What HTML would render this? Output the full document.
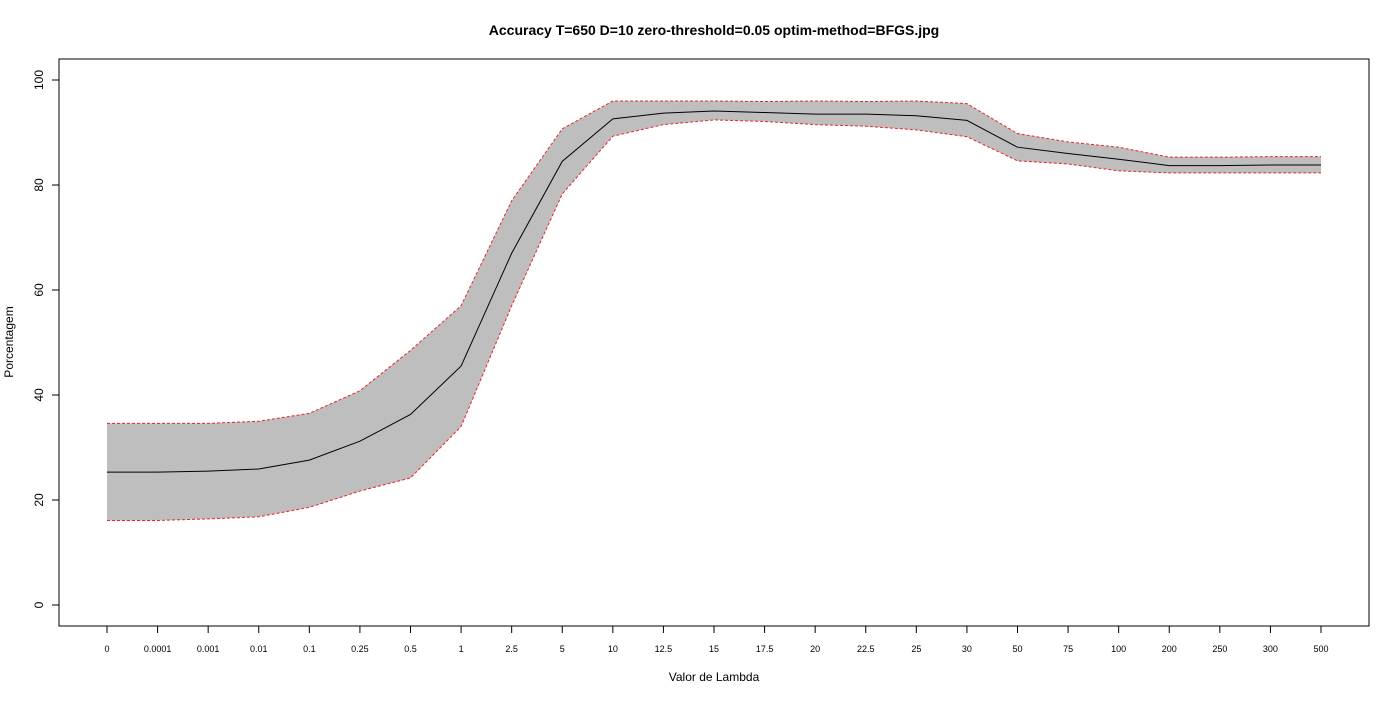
<!DOCTYPE html>
<html><head><meta charset="utf-8"><style>
body{margin:0;background:#fff;}
svg text{font-family:"Liberation Sans",Arial,sans-serif;fill:#000;}
</style></head><body>
<svg id="chart" width="1400" height="700" xmlns="http://www.w3.org/2000/svg">
<text x="714" y="35" text-anchor="middle" font-size="14" font-weight="bold">Accuracy T=650 D=10 zero-threshold=0.05 optim-method=BFGS.jpg</text>
<rect x="59" y="59" width="1310" height="567" fill="none" stroke="#000" stroke-width="1"/>
<g id="marks"></g>
<g id="axes"></g>
<text x="714" y="681" text-anchor="middle" font-size="12">Valor de Lambda</text>
<text transform="translate(13,342) rotate(-90)" text-anchor="middle" font-size="12">Porcentagem</text>
</svg>
<script>
const categories=["0","0.0001","0.001","0.01","0.1","0.25","0.5","1","2.5","5","10","12.5","15","17.5","20","22.5","25","30","50","75","100","200","250","300","500"];
const meanValues=[25.3,25.3,25.5,25.9,27.6,31.2,36.3,45.5,67,84.5,92.6,93.7,94.1,93.8,93.5,93.5,93.2,92.3,87.2,86,84.9,83.7,83.7,83.8,83.8];
const upperValues=[34.6,34.6,34.6,35,36.5,40.8,48.5,57,77,90.7,96,96,96,95.9,96,95.9,96,95.5,89.8,88.2,87.2,85.3,85.3,85.4,85.4];
const lowerValues=[16.1,16.1,16.4,16.8,18.6,21.7,24.2,34,57,78.3,89.3,91.5,92.4,92.1,91.5,91.2,90.5,89.2,84.6,84.0,82.7,82.3,82.3,82.3,82.3];
const yTicks=[0,20,40,60,80,100];
const NS="http://www.w3.org/2000/svg";
function xs(i){return 107+i*(1321-107)/(categories.length-1);}
function ys(v){return 605-v*5.25;}
const marks=document.getElementById('marks'),axes=document.getElementById('axes');
function mk(t,a,p){const e=document.createElementNS(NS,t);for(const k in a)e.setAttribute(k,a[k]);p.appendChild(e);return e;}
const upPts=upperValues.map((v,i)=>xs(i)+','+ys(v));
const loPts=lowerValues.map((v,i)=>xs(i)+','+ys(v));
const band=mk('polygon',{points:upPts.concat(loPts.slice().reverse()).join(' '),fill:'#bebebe',stroke:'none'},marks);


const up=mk('polyline',{points:upPts.join(' '),fill:'none',stroke:'#e8262a','stroke-width':1,'stroke-dasharray':'3,2'},marks);


const lo=mk('polyline',{points:loPts.join(' '),fill:'none',stroke:'#e8262a','stroke-width':1,'stroke-dasharray':'3,2'},marks);


const mean=mk('polyline',{points:meanValues.map((v,i)=>xs(i)+','+ys(v)).join(' '),fill:'none',stroke:'#000','stroke-width':1},marks);


mk('line',{x1:59,x2:59,y1:ys(0),y2:ys(100),stroke:'#000'},axes);
yTicks.forEach(v=>{
 mk('line',{x1:52,x2:59,y1:ys(v),y2:ys(v),stroke:'#000'},axes);
 const t=mk('text',{transform:`translate(43,${ys(v)}) rotate(-90)`,'text-anchor':'middle','font-size':12},axes);
 t.textContent=v;
 
 
});
mk('line',{x1:xs(0),x2:xs(categories.length-1),y1:626,y2:626,stroke:'#000'},axes);
categories.forEach((c,i)=>{
 mk('line',{x1:xs(i),x2:xs(i),y1:626,y2:633,stroke:'#000'},axes);
 const t=mk('text',{x:xs(i),y:652,'text-anchor':'middle','font-size':9},axes);
 t.textContent=c;
 
 
});
</script>
</body></html>
